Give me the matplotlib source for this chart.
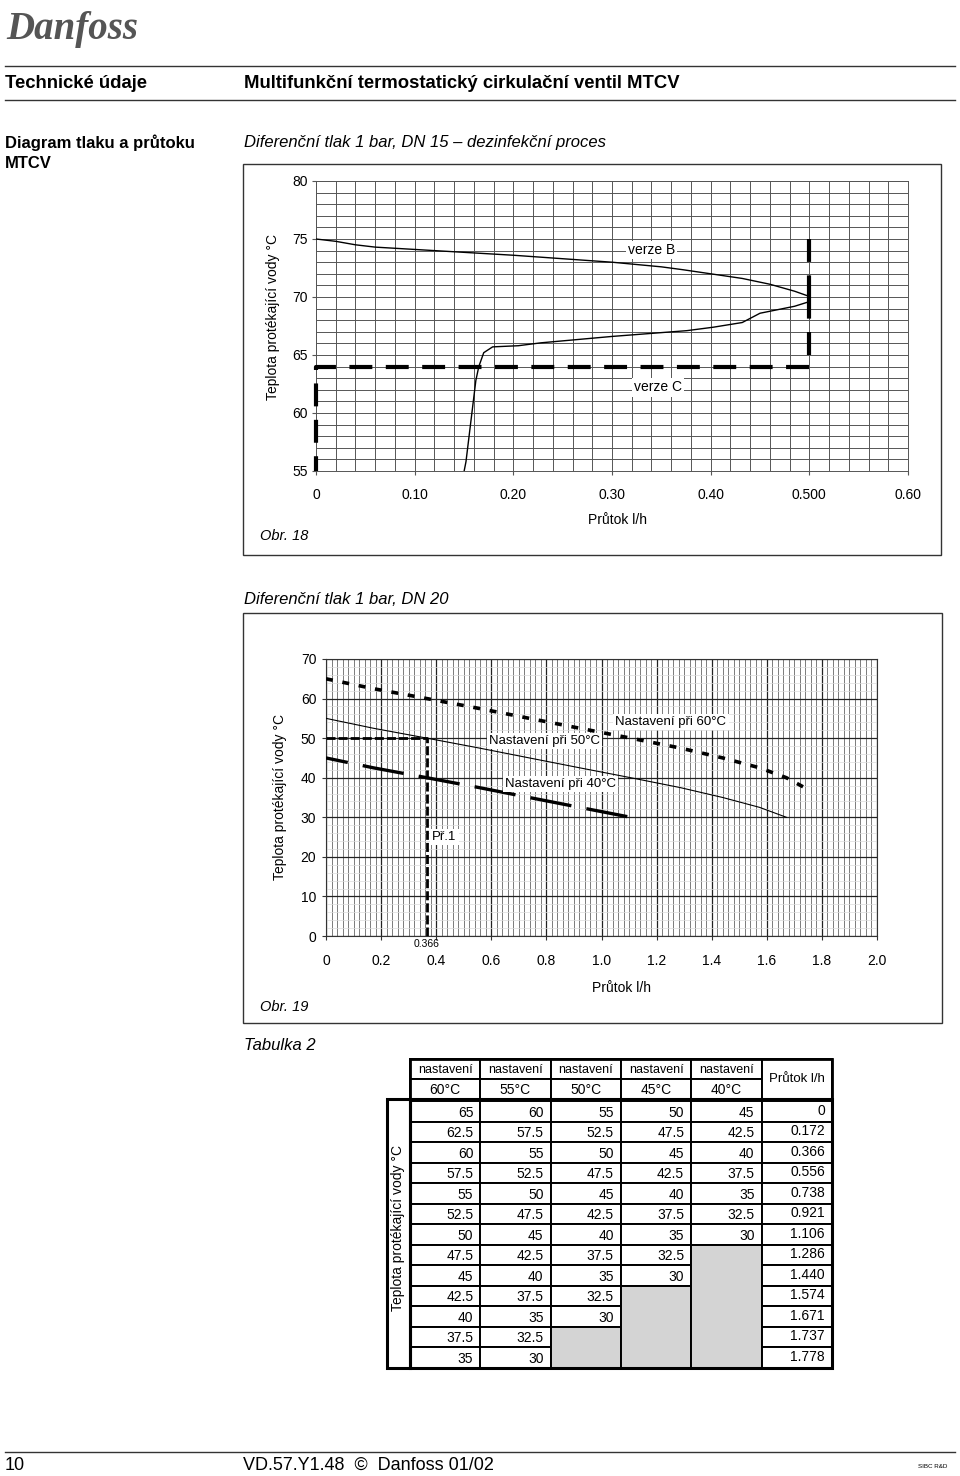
import matplotlib
matplotlib.use('Agg')
import matplotlib.pyplot as plt
from matplotlib.patches import Rectangle
from matplotlib.ticker import MultipleLocator, FixedLocator

plt.rcParams['font.family'] = ['Liberation Sans', 'DejaVu Sans']
plt.rcParams['lines.scale_dashes'] = False

W, H = 960, 1476

# Obr. 18 - DN 15, dezinfekcni proces
b_upper_flow = [0, 0.02, 0.04, 0.06, 0.10, 0.15, 0.20, 0.25, 0.30, 0.35, 0.372, 0.40, 0.432, 0.46, 0.485, 0.50]
b_upper_temp = [75, 74.8, 74.5, 74.3, 74.1, 73.85, 73.6, 73.3, 73.0, 72.6, 72.35, 72.0, 71.6, 71.1, 70.5, 70.05]
b_lower_flow = [0.149, 0.152, 0.156, 0.162, 0.165, 0.170, 0.179, 0.205, 0.228, 0.30, 0.376, 0.403, 0.432, 0.45, 0.485, 0.50, 0.50]
b_lower_temp = [54.5, 55.8, 58.6, 62.8, 64.0, 65.2, 65.7, 65.8, 66.05, 66.6, 67.1, 67.4, 67.8, 68.6, 69.2, 69.6, 70.0]
c_flow = [0.5, 0, 0]
c_temp = [64, 64, 55]
c_edge_top_flow, c_edge_top_temp = [0.5, 0.5], [75, 70]
c_edge_bot_flow, c_edge_bot_temp = [0.5, 0.5], [65, 70]
x1_ticks = [0, 0.1, 0.2, 0.3, 0.4, 0.5, 0.6]
x1_labels = ['0', '0.10', '0.20', '0.30', '0.40', '0.500', '0.60']
y1_ticks = [55, 60, 65, 70, 75, 80]

# Tabulka 2 / Obr. 19 - DN 20
prutok = [0, 0.172, 0.366, 0.556, 0.738, 0.921, 1.106, 1.286, 1.440, 1.574, 1.671, 1.737, 1.778]
nast_60 = [65, 62.5, 60, 57.5, 55, 52.5, 50, 47.5, 45, 42.5, 40, 37.5, 35]
nast_55 = [60, 57.5, 55, 52.5, 50, 47.5, 45, 42.5, 40, 37.5, 35, 32.5, 30]
nast_50 = [55, 52.5, 50, 47.5, 45, 42.5, 40, 37.5, 35, 32.5, 30, None, None]
nast_45 = [50, 47.5, 45, 42.5, 40, 37.5, 35, 32.5, 30, None, None, None, None]
nast_40 = [45, 42.5, 40, 37.5, 35, 32.5, 30, None, None, None, None, None, None]
head_temps = ['60°C', '55°C', '50°C', '45°C', '40°C']
ex_flow, ex_temp = 0.366, 50
x2_ticks = [0, 0.2, 0.4, 0.6, 0.8, 1.0, 1.2, 1.4, 1.6, 1.8, 2.0]
x2_labels = ['0', '0.2', '0.4', '0.6', '0.8', '1.0', '1.2', '1.4', '1.6', '1.8', '2.0']
y2_ticks = [0, 10, 20, 30, 40, 50, 60, 70]

ylab = 'Teplota protékající vody °C'

fig = plt.figure(figsize=(W / 100, H / 100), dpi=100)
page = fig.add_axes([0, 0, 1, 1], zorder=0)
page.set_xlim(0, W)
page.set_ylim(H, 0)
page.axis('off')


def px_axes(l, t, r, b):
    return fig.add_axes([l / W, 1 - b / H, (r - l) / W, (b - t) / H], zorder=2)


def clean(v):
    return f'{v:g}'


# header
page.text(6, 30, 'Danfoss', family='Liberation Serif', style='italic', weight='bold',
          size=28, color='#555555', va='center')
page.plot([5, 955], [66, 66], color='#333333', lw=1)
page.text(5, 84, 'Technické údaje', weight='bold', size=13.3, va='center')
page.text(244, 84, 'Multifunkční termostatický cirkulační ventil MTCV', weight='bold', size=13.3, va='center')
page.plot([5, 955], [100, 100], color='#333333', lw=1)
page.text(5, 143, 'Diagram tlaku a průtoku', weight='bold', size=12, va='center')
page.text(5, 163, 'MTCV', weight='bold', size=12, va='center')

# ---- Obr. 18 ----
page.text(244, 143, 'Diferenční tlak 1 bar, DN 15 – dezinfekční proces', style='italic', size=12, va='center')
page.add_patch(Rectangle((243, 164), 698, 391, fill=False, ec='#333333', lw=1))
page.text(617, 520, 'Průtok l/h', size=10, ha='center', va='center')
page.text(260, 536, 'Obr. 18', style='italic', size=10.5, va='center')
page.text(273, 317, ylab, rotation=90, size=10, ha='center', va='center')

ax1 = px_axes(316, 181, 908, 471)
ax1.set_xlim(0, 0.6)
ax1.set_ylim(55, 80)
ax1.xaxis.set_major_locator(FixedLocator(x1_ticks))
ax1.set_xticklabels(x1_labels)
ax1.set_yticks(y1_ticks)
ax1.xaxis.set_minor_locator(MultipleLocator(0.02))
ax1.yaxis.set_minor_locator(MultipleLocator(1))
ax1.set_axisbelow(True)
ax1.grid(which='both', color='#555555', lw=0.7)
ax1.tick_params(which='minor', length=0)
ax1.tick_params(which='major', length=3, color='#555555', labelsize=10)
ax1.tick_params(axis='x', pad=9)
ax1.tick_params(axis='y', pad=3)
for s in ax1.spines.values():
    s.set_color('#555555')
    s.set_linewidth(0.7)

ax1.plot(b_upper_flow, b_upper_temp, color='black', lw=1.0, zorder=3)
ax1.plot(b_lower_flow, b_lower_temp, color='black', lw=1.0, zorder=3)
dash_c = (0, (16.5, 9.7))
ax1.plot(c_flow, c_temp, color='black', lw=3, ls=dash_c, zorder=3, clip_on=False, solid_capstyle='butt')
ax1.plot(c_edge_top_flow, c_edge_top_temp, color='black', lw=3, ls=dash_c, zorder=3)
ax1.plot(c_edge_bot_flow, c_edge_bot_temp, color='black', lw=3, ls=dash_c, zorder=3)
box = dict(fc='white', ec='none', pad=1.5)
ax1.text(0.34, 74.05, 'verze B', size=10, ha='center', va='center', bbox=box, zorder=4)
ax1.text(0.347, 62.2, 'verze C', size=10, ha='center', va='center', bbox=box, zorder=4)

# ---- Obr. 19 ----
page.text(244, 600, 'Diferenční tlak 1 bar, DN 20', style='italic', size=12, va='center')
page.add_patch(Rectangle((243, 613), 699, 410, fill=False, ec='#333333', lw=1))
page.text(622, 988, 'Průtok l/h', size=10, ha='center', va='center')
page.text(260, 1007, 'Obr. 19', style='italic', size=10.5, va='center')
page.text(280, 797, ylab, rotation=90, size=10, ha='center', va='center')

ax2 = px_axes(326, 659, 877, 936)
ax2.set_xlim(0, 2.0)
ax2.set_ylim(0, 70)
ax2.set_xticks(x2_ticks)
ax2.set_xticklabels(x2_labels)
ax2.set_yticks(y2_ticks)
ax2.xaxis.set_minor_locator(MultipleLocator(0.02))
ax2.yaxis.set_minor_locator(MultipleLocator(2))
ax2.set_axisbelow(True)
ax2.grid(which='major', color='#222222', lw=0.9)
ax2.grid(which='minor', axis='x', color='#666666', lw=0.6)
ax2.grid(which='minor', axis='y', color='#dcdcdc', lw=0.5)
ax2.tick_params(which='minor', length=0)
ax2.tick_params(which='major', length=3, color='#333333', labelsize=10)
ax2.tick_params(axis='x', pad=10)
ax2.tick_params(axis='y', pad=4)
for s in ax2.spines.values():
    s.set_color('#333333')
    s.set_linewidth(0.8)

n60 = list(zip(prutok, nast_60))[:12]
ax2.plot([p[0] for p in n60], [p[1] for p in n60], color='black', lw=2.6,
         ls=(0, (5, 7)), zorder=3)
n50 = [(f, t) for f, t in zip(prutok, nast_50) if t is not None]
ax2.plot([p[0] for p in n50], [p[1] for p in n50], color='black', lw=0.8, zorder=3)
n40 = [(f, t) for f, t in zip(prutok, nast_40) if t is not None]
ax2.plot([p[0] for p in n40], [p[1] for p in n40], color='black', lw=2.4,
         ls=(14, (30, 11)), zorder=3)
ax2.plot([0, ex_flow, ex_flow], [ex_temp, ex_temp, 0], color='black', lw=2,
         ls=(0, (6.5, 2.2)), zorder=3)
ax2.annotate(f'{ex_flow:.3f}', xy=(ex_flow, 0), xytext=(0, -6), textcoords='offset points',
             ha='center', va='center', size=7.5, annotation_clip=False)
ax2.text(1.252, 54.1, 'Nastavení při 60°C', size=9.5, ha='center', va='center', bbox=box, zorder=4)
ax2.text(0.794, 49.3, 'Nastavení při 50°C', size=9.5, ha='center', va='center', bbox=box, zorder=4)
ax2.text(0.85, 38.4, 'Nastavení při 40°C', size=9.5, ha='center', va='center', bbox=box, zorder=4)
ax2.text(0.43, 25, 'Př.1', size=9.5, ha='center', va='center', bbox=box, zorder=4)

# ---- Tabulka 2 ----
page.text(244, 1046, 'Tabulka 2', style='italic', size=12, va='center')
tab_left, col_w = 410, 70.3
head_top, head_mid, head_bot = 1059, 1079, 1099
row_top, row_h = 1101, 20.5
n_rows = len(prutok)
lw_cell = 1.4
cols = [nast_60, nast_55, nast_50, nast_45, nast_40]
for i, (head, vals) in enumerate(zip(head_temps, cols)):
    x0 = tab_left + i * col_w
    page.add_patch(Rectangle((x0, head_top), col_w, head_mid - head_top, fc='white', ec='black', lw=lw_cell))
    page.add_patch(Rectangle((x0, head_mid), col_w, head_bot - head_mid, fc='white', ec='black', lw=lw_cell))
    page.text(x0 + col_w / 2, (head_top + head_mid) / 2 + 1, 'nastavení', size=9, ha='center', va='center')
    page.text(x0 + col_w / 2, (head_mid + head_bot) / 2 + 1, head, size=10, ha='center', va='center')
    gray_start = None
    for j, v in enumerate(vals):
        y0 = row_top + j * row_h
        if v is None:
            if gray_start is None:
                gray_start = j
            continue
        page.add_patch(Rectangle((x0, y0), col_w, row_h, fc='white', ec='black', lw=lw_cell))
        page.text(x0 + col_w - 7, y0 + row_h / 2 + 1.5, clean(v), size=10, ha='right', va='center')
    if gray_start is not None:
        page.add_patch(Rectangle((x0, row_top + gray_start * row_h), col_w,
                                 (n_rows - gray_start) * row_h, fc='#d4d4d4', ec='black', lw=lw_cell))

xp = tab_left + 5 * col_w
page.add_patch(Rectangle((xp, head_top), col_w, head_bot - head_top, fc='white', ec='black', lw=lw_cell))
page.text(xp + col_w / 2, (head_top + head_bot) / 2, 'Průtok l/h', size=9.5, ha='center', va='center')
for j, v in enumerate(prutok):
    y0 = row_top + j * row_h
    page.add_patch(Rectangle((xp, y0), col_w, row_h, fc='white', ec='black', lw=lw_cell))
    lab = '0' if v == 0 else f'{v:.3f}'
    page.text(xp + col_w - 7, y0 + row_h / 2 - 0.5, lab, size=10, ha='right', va='center')

tab_bot = row_top + n_rows * row_h
page.add_patch(Rectangle((tab_left, head_bot), 6 * col_w, tab_bot - head_bot, fill=False, ec='black', lw=2.2))
page.add_patch(Rectangle((tab_left, head_top), 6 * col_w, head_bot - head_top, fill=False, ec='black', lw=2.0))
page.add_patch(Rectangle((386.7, head_bot), tab_left - 386.7, tab_bot - head_bot, fill=False, ec='black', lw=2.2))
page.text(398, 1228, ylab, rotation=90, size=10, ha='center', va='center')

# footer
page.plot([5, 955], [1452, 1452], color='#333333', lw=1)
page.text(5, 1465, '10', size=13, va='center')
page.text(243, 1465, 'VD.57.Y1.48  ©  Danfoss 01/02', size=13, va='center')
page.text(918, 1467, 'SIBC R&D', size=4.5, va='center')

fig.savefig('out.png', dpi=100)
